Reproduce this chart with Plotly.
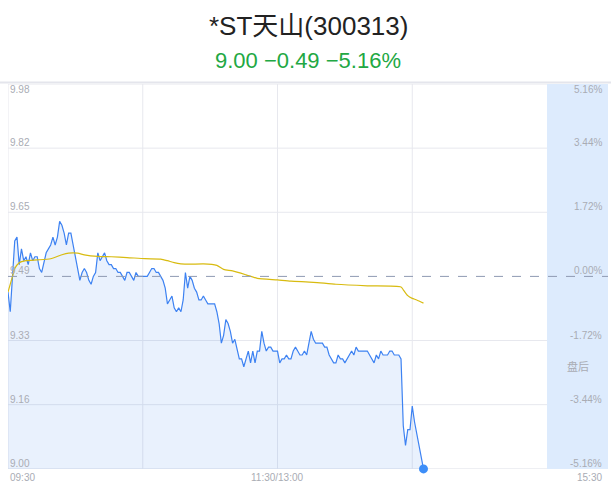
import plotly.graph_objects as go

# ---- data ----
title_text = "*ST天山(300313)"
quote_text = "9.00 −0.49 −5.16%"
prev_close = 9.49
max_pct = 5.16

minutes = [0, 1, 3, 4, 5, 6, 7, 8, 9, 10, 11, 12, 13, 14, 15, 16, 17, 18, 19, 20,
           21, 22, 23, 24, 25, 26, 27, 28, 29, 30, 31, 32, 33, 34, 35, 36, 37, 38, 39, 40,
           41, 42, 43, 44, 45, 46, 47, 48, 49, 50, 51, 52, 53, 54, 55, 56, 57, 58, 59, 60,
           61, 62, 63, 64, 65, 66, 67, 68, 69, 70, 71, 72, 73, 74, 75, 76, 77, 78, 79, 80,
           81, 82, 83, 84, 85, 86, 87, 88, 89, 90, 91, 92, 93, 94, 95, 96, 97, 98, 99, 100,
           101, 102, 103, 104, 105, 106, 107, 108, 109, 110, 111, 112, 113, 114, 115, 116, 117, 118, 119, 120,
           121, 122, 123, 124, 125, 126, 127, 128, 129, 130, 131, 132, 133, 134, 135, 136, 137, 138, 139, 140,
           141, 142, 143, 144, 145, 146, 147, 148, 149, 150, 151, 152, 153, 154, 155, 156, 157, 158, 159, 160,
           161, 162, 163, 164, 165, 166, 167, 168, 169, 170, 171, 172, 173, 174, 175, 176, 177, 178, 179, 180,
           181, 182, 183, 184, 185]
prices = [9.45, 9.40, 9.58, 9.59, 9.52, 9.56, 9.53, 9.54, 9.52, 9.55, 9.53, 9.54, 9.54, 9.51, 9.50, 9.53, 9.55, 9.56, 9.57, 9.59,
          9.57, 9.59, 9.63, 9.62, 9.60, 9.57, 9.60, 9.60, 9.57, 9.54, 9.51, 9.48, 9.50, 9.51, 9.50, 9.48, 9.47, 9.49, 9.50, 9.55,
          9.53, 9.54, 9.55, 9.53, 9.52, 9.52, 9.51, 9.51, 9.50, 9.50, 9.49, 9.48, 9.50, 9.50, 9.49, 9.48, 9.50, 9.49, 9.49, 9.49,
          9.49, 9.49, 9.50, 9.51, 9.51, 9.50, 9.50, 9.49, 9.48, 9.46, 9.42, 9.43, 9.44, 9.41, 9.40, 9.41, 9.40, 9.43, 9.50, 9.46,
          9.49, 9.48, 9.46, 9.45, 9.43, 9.43, 9.44, 9.43, 9.42, 9.42, 9.42, 9.42, 9.40, 9.37, 9.32, 9.34, 9.38, 9.37, 9.35, 9.32,
          9.33, 9.30, 9.28, 9.28, 9.26, 9.28, 9.30, 9.27, 9.30, 9.27, 9.30, 9.30, 9.35, 9.32, 9.30, 9.31, 9.31, 9.30, 9.30, 9.30,
          9.27, 9.28, 9.28, 9.29, 9.28, 9.28, 9.30, 9.31, 9.30, 9.29, 9.29, 9.30, 9.29, 9.32, 9.35, 9.33, 9.32, 9.32, 9.32, 9.32,
          9.31, 9.31, 9.29, 9.28, 9.27, 9.27, 9.29, 9.28, 9.28, 9.27, 9.28, 9.29, 9.30, 9.29, 9.31, 9.30, 9.30, 9.30, 9.30, 9.30,
          9.29, 9.28, 9.27, 9.29, 9.28, 9.30, 9.29, 9.29, 9.29, 9.30, 9.30, 9.29, 9.29, 9.29, 9.28, 9.11, 9.06, 9.10, 9.10, 9.16,
          9.12, 9.09, 9.06, 9.03, 9.00]

avg_minutes = [0, 2, 3, 5, 8, 13, 19, 24, 27, 31, 34, 40, 46, 53, 61, 68, 71, 74, 77, 81,
               87, 93, 96, 100, 106, 111, 120, 126, 136, 146, 160, 175, 176, 178, 180, 182, 185]
avg_prices = [9.450, 9.490, 9.510, 9.525, 9.530, 9.532, 9.535, 9.545, 9.549, 9.549, 9.545, 9.541,
              9.540, 9.538, 9.535, 9.534, 9.530, 9.525, 9.522, 9.521, 9.522, 9.518, 9.508, 9.504,
              9.494, 9.485, 9.481, 9.478, 9.475, 9.470, 9.466, 9.463, 9.456, 9.441, 9.434, 9.430, 9.422]

left_labels = ["9.98", "9.82", "9.65", "9.49", "9.33", "9.16", "9.00"]
right_labels = ["5.16%", "3.44%", "1.72%", "0.00%", "-1.72%", "-3.44%", "-5.16%"]
time_labels = ["09:30", "11:30/13:00", "15:30"]

# ---- layout constants ----
W, H = 611, 492
ML, MR, MT, MB = 8, 3, 84, 23
session_end = 240
plot_w = W - ML - MR
px_per_min = (547 - ML) / session_end
x_max = plot_w / px_per_min

half = prev_close * max_pct / 100
y_lo, y_hi = prev_close - half, prev_close + half
grid_vals = [prev_close + half * k / 3 for k in (3, 2, 1, 0, -1, -2, -3)]
y_lo_axis = min(y_lo, min(prices)) - 0.0002

font_fam = "Liberation Sans, Arial, Noto Sans CJK SC, sans-serif"
grid_c = "#e7e8ee"
lab_c = "#a9acb4"

fig = go.Figure()

fig.add_trace(go.Scatter(
    x=minutes, y=prices, mode="lines",
    line=dict(color="#3d82f2", width=1.2),
    fill="tozeroy", fillcolor="rgba(59,127,240,0.11)",
    hoverinfo="skip", showlegend=False))
fig.add_trace(go.Scatter(
    x=avg_minutes, y=avg_prices, mode="lines",
    line=dict(color="#d8bb10", width=1.2, shape="spline", smoothing=0.6),
    hoverinfo="skip", showlegend=False))
fig.add_trace(go.Scatter(
    x=[minutes[-1]], y=[prices[-1]], mode="markers",
    marker=dict(color="#3d8ef8", size=9), cliponaxis=False,
    hoverinfo="skip", showlegend=False))

shapes = []
# after-hours panel
shapes.append(dict(type="rect", xref="x", yref="paper", x0=session_end, x1=x_max, y0=0, y1=1,
                   fillcolor="#ddebfd", line=dict(width=0), layer="below"))
# horizontal grid
for i, v in enumerate(grid_vals):
    if i == 3:
        continue
    shapes.append(dict(type="line", xref="x", yref="y", x0=0, x1=session_end, y0=v, y1=v,
                       line=dict(color=grid_c, width=1), layer="below"))
# vertical grid
for m in (60, 120, 180):
    shapes.append(dict(type="line", xref="x", yref="paper", x0=m, x1=m, y0=0, y1=1,
                       line=dict(color=grid_c, width=1), layer="below"))
# left border
shapes.append(dict(type="line", xref="x", yref="paper", x0=0, x1=0, y0=0, y1=1,
                   line=dict(color=grid_c, width=1), layer="below"))
# top border
shapes.append(dict(type="line", xref="paper", yref="paper", x0=-ML / plot_w, x1=1 + MR / plot_w,
                   y0=1.004, y1=1.004, line=dict(color="#e4e5ec", width=2)))
# previous close dashed line
shapes.append(dict(type="line", xref="x", yref="y", x0=0, x1=x_max, y0=prev_close, y1=prev_close,
                   line=dict(color="#8e9ab2", width=1, dash="dash")))

ann = []
ann.append(dict(text=title_text, xref="paper", yref="paper", x=0.5, y=1, yshift=58,
                xanchor="center", yanchor="middle", showarrow=False,
                font=dict(size=26, color="#222222", family=font_fam)))
ann.append(dict(text=quote_text, xref="paper", yref="paper", x=0.5, y=1, yshift=24,
                xanchor="center", yanchor="middle", showarrow=False,
                font=dict(size=22, color="#22a843", family=font_fam)))
for i, v in enumerate(grid_vals):
    top = (i == 0)
    ys = 2 if top else -2
    ya = "top" if top else "bottom"
    ann.append(dict(text=left_labels[i], xref="x", yref="y", x=0, y=v, xshift=0,
                    yshift=ys, xanchor="left", yanchor=ya,
                    showarrow=False, font=dict(size=10, color=lab_c, family=font_fam)))
    ann.append(dict(text=right_labels[i], xref="x", yref="y", x=x_max, y=v, xshift=-4,
                    yshift=ys, xanchor="right", yanchor=ya,
                    showarrow=False, font=dict(size=10, color=lab_c, family=font_fam)))
tx = [0, 120, x_max]
txa = ["left", "center", "right"]
txs = [0, 0, -4]
for t, xx, xa, xs in zip(time_labels, tx, txa, txs):
    ann.append(dict(text=t, xref="x", yref="paper", x=xx, y=0, xshift=xs, yshift=-1,
                    xanchor=xa, yanchor="top", showarrow=False,
                    font=dict(size=10, color=lab_c, family=font_fam)))
ann.append(dict(text="盘后", xref="x", yref="y", x=(session_end + x_max) / 2, y=prev_close - half * 0.47,
                xanchor="center", yanchor="middle", showarrow=False,
                font=dict(size=11, color="#a9acb4", family=font_fam)))

fig.update_layout(
    width=W, height=H,
    margin=dict(l=ML, r=MR, t=MT, b=MB, pad=0),
    paper_bgcolor="white", plot_bgcolor="white",
    xaxis=dict(range=[0, x_max], showgrid=False, zeroline=False, showticklabels=False,
               showline=False, fixedrange=True),
    yaxis=dict(range=[y_lo_axis, y_hi], showgrid=False, zeroline=False, showticklabels=False,
               showline=False, fixedrange=True),
    shapes=shapes, annotations=ann, showlegend=False,
)

fig.write_html("out.html", config={"displayModeBar": False},
               post_script="document.body.style.margin='0';document.body.style.overflow='hidden';")
